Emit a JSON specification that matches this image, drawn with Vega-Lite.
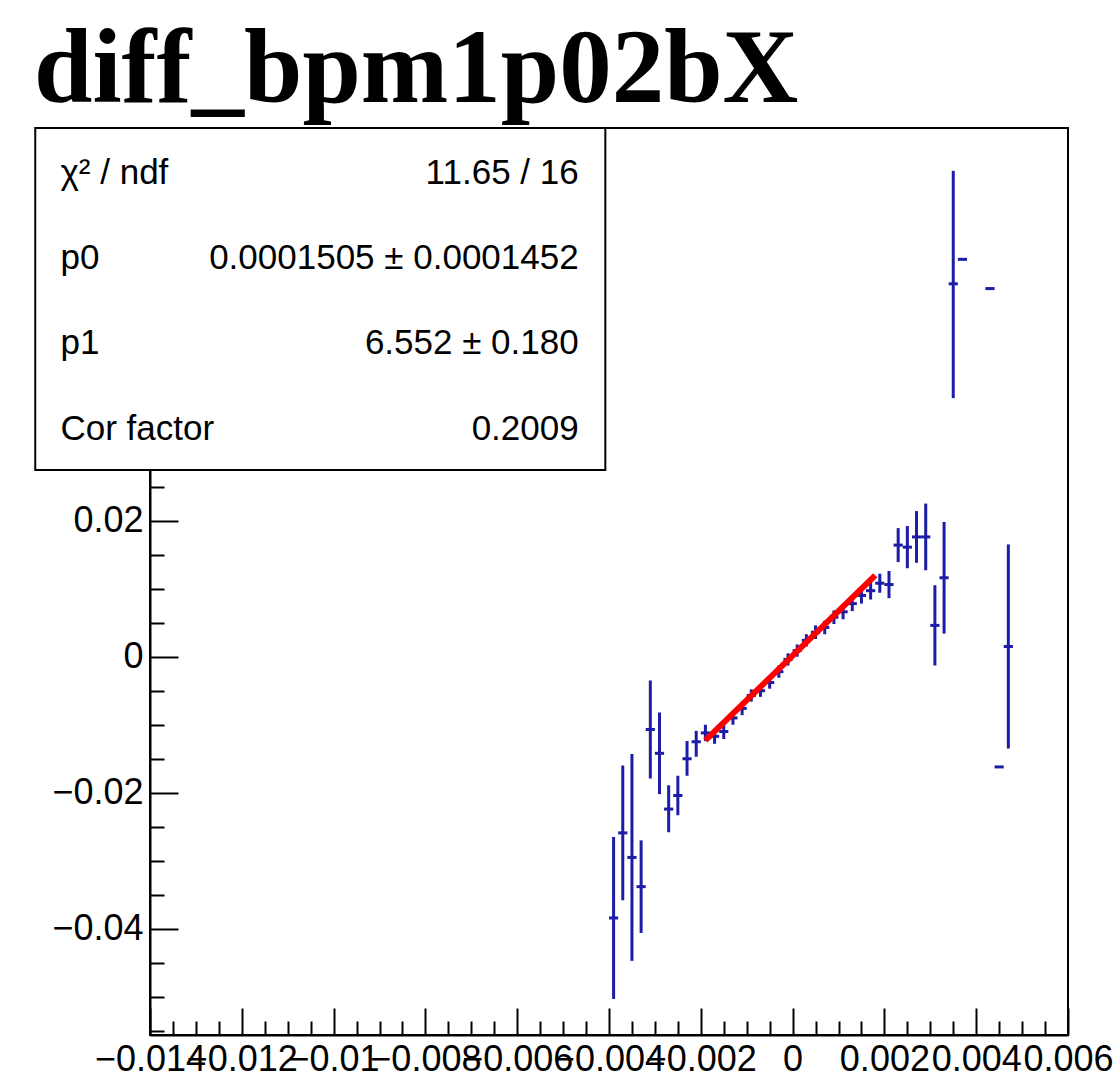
{
  "$schema": "https://vega.github.io/schema/vega-lite/v6.json",
  "width": 918,
  "height": 907,
  "autosize": {"type": "none"},
  "padding": {"left": 150, "top": 128, "right": 51, "bottom": 55},
  "background": "white",
  "title": {"text": "diff_bpm1p02bX", "anchor": "start", "frame": "group", "font": "Liberation Serif", "fontSize": 105, "fontWeight": "bold", "color": "black", "dx": -116, "dy": 105, "offset": 25, "baseline": "alphabetic"},
  "config": {"view": {"stroke": "black", "strokeWidth": 2}},
  "resolve": {"axis": {"x": "independent", "y": "independent"}},
  "datasets": {
    "pts": [
      {"x": -0.0039, "y": -0.0384, "ylo": -0.0503, "yhi": -0.0265, "xlo": -0.004, "xhi": -0.0038},
      {"x": -0.0037, "y": -0.0259, "ylo": -0.0358, "yhi": -0.016, "xlo": -0.0038, "xhi": -0.0036},
      {"x": -0.0035, "y": -0.0295, "ylo": -0.0447, "yhi": -0.0143, "xlo": -0.0036, "xhi": -0.0034},
      {"x": -0.0033, "y": -0.0338, "ylo": -0.0406, "yhi": -0.027, "xlo": -0.0034, "xhi": -0.0032},
      {"x": -0.0031, "y": -0.0107, "ylo": -0.0179, "yhi": -0.0035, "xlo": -0.0032, "xhi": -0.003},
      {"x": -0.0029, "y": -0.0142, "ylo": -0.0202, "yhi": -0.0082, "xlo": -0.003, "xhi": -0.0028},
      {"x": -0.0027, "y": -0.0224, "ylo": -0.0258, "yhi": -0.0189, "xlo": -0.0028, "xhi": -0.0026},
      {"x": -0.0025, "y": -0.0204, "ylo": -0.0233, "yhi": -0.0175, "xlo": -0.0026, "xhi": -0.0024},
      {"x": -0.0023, "y": -0.015, "ylo": -0.0175, "yhi": -0.0124, "xlo": -0.0024, "xhi": -0.0022},
      {"x": -0.0021, "y": -0.0125, "ylo": -0.0147, "yhi": -0.0109, "xlo": -0.0022, "xhi": -0.002},
      {"x": -0.0019, "y": -0.0112, "ylo": -0.0124, "yhi": -0.01, "xlo": -0.002, "xhi": -0.0018},
      {"x": -0.0017, "y": -0.0117, "ylo": -0.0128, "yhi": -0.0106, "xlo": -0.0018, "xhi": -0.0016},
      {"x": -0.0015, "y": -0.011, "ylo": -0.0121, "yhi": -0.0099, "xlo": -0.0016, "xhi": -0.0014},
      {"x": -0.0013, "y": -0.009, "ylo": -0.01, "yhi": -0.008, "xlo": -0.0014, "xhi": -0.0012},
      {"x": -0.0011, "y": -0.0076, "ylo": -0.0086, "yhi": -0.0066, "xlo": -0.0012, "xhi": -0.001},
      {"x": -0.0009, "y": -0.0057, "ylo": -0.0066, "yhi": -0.0048, "xlo": -0.001, "xhi": -0.0008},
      {"x": -0.0007, "y": -0.005, "ylo": -0.0059, "yhi": -0.0041, "xlo": -0.0008, "xhi": -0.0006},
      {"x": -0.0005, "y": -0.0038, "ylo": -0.0047, "yhi": -0.0029, "xlo": -0.0006, "xhi": -0.0004},
      {"x": -0.0003, "y": -0.0022, "ylo": -0.0031, "yhi": -0.0013, "xlo": -0.0004, "xhi": -0.0002},
      {"x": -0.0001, "y": -0.0004, "ylo": -0.0013, "yhi": 0.0005, "xlo": -0.0002, "xhi": 0},
      {"x": 0.0001, "y": 0.0009, "ylo": 0, "yhi": 0.0018, "xlo": 0, "xhi": 0.0002},
      {"x": 0.0003, "y": 0.0024, "ylo": 0.0015, "yhi": 0.0033, "xlo": 0.0002, "xhi": 0.0004},
      {"x": 0.0005, "y": 0.0036, "ylo": 0.0026, "yhi": 0.0046, "xlo": 0.0004, "xhi": 0.0006},
      {"x": 0.0007, "y": 0.0043, "ylo": 0.0033, "yhi": 0.0053, "xlo": 0.0006, "xhi": 0.0008},
      {"x": 0.0009, "y": 0.0058, "ylo": 0.0048, "yhi": 0.0068, "xlo": 0.0008, "xhi": 0.001},
      {"x": 0.0011, "y": 0.0066, "ylo": 0.0055, "yhi": 0.0077, "xlo": 0.001, "xhi": 0.0012},
      {"x": 0.0013, "y": 0.0078, "ylo": 0.0067, "yhi": 0.0089, "xlo": 0.0012, "xhi": 0.0014},
      {"x": 0.0015, "y": 0.009, "ylo": 0.0078, "yhi": 0.0102, "xlo": 0.0014, "xhi": 0.0016},
      {"x": 0.0017, "y": 0.0097, "ylo": 0.0084, "yhi": 0.011, "xlo": 0.0016, "xhi": 0.0018},
      {"x": 0.0019, "y": 0.0108, "ylo": 0.0094, "yhi": 0.0122, "xlo": 0.0018, "xhi": 0.002},
      {"x": 0.0021, "y": 0.0106, "ylo": 0.0086, "yhi": 0.0126, "xlo": 0.002, "xhi": 0.0022},
      {"x": 0.0023, "y": 0.0164, "ylo": 0.0139, "yhi": 0.0189, "xlo": 0.0022, "xhi": 0.0024},
      {"x": 0.0025, "y": 0.0161, "ylo": 0.013, "yhi": 0.0192, "xlo": 0.0024, "xhi": 0.0026},
      {"x": 0.0027, "y": 0.0176, "ylo": 0.0138, "yhi": 0.0214, "xlo": 0.0026, "xhi": 0.0028},
      {"x": 0.0029, "y": 0.0176, "ylo": 0.0127, "yhi": 0.0225, "xlo": 0.0028, "xhi": 0.003},
      {"x": 0.0031, "y": 0.0046, "ylo": -0.0013, "yhi": 0.0105, "xlo": 0.003, "xhi": 0.0032},
      {"x": 0.0033, "y": 0.0116, "ylo": 0.0034, "yhi": 0.0198, "xlo": 0.0032, "xhi": 0.0034},
      {"x": 0.0035, "y": 0.0548, "ylo": 0.038, "yhi": 0.0714, "xlo": 0.0034, "xhi": 0.0036},
      {"x": 0.0037, "y": 0.0584, "ylo": 0.0584, "yhi": 0.0584, "xlo": 0.0036, "xhi": 0.0038},
      {"x": 0.0043, "y": 0.0541, "ylo": 0.0541, "yhi": 0.0541, "xlo": 0.0042, "xhi": 0.0044},
      {"x": 0.0045, "y": -0.0162, "ylo": -0.0162, "yhi": -0.0162, "xlo": 0.0044, "xhi": 0.0046},
      {"x": 0.0047, "y": 0.0015, "ylo": -0.0135, "yhi": 0.0165, "xlo": 0.0046, "xhi": 0.0048}
    ],
    "fit": [
      {"x": -0.0019, "y": -0.0122983},
      {"x": 0.0018, "y": 0.0119441}
    ]
  },
  "layer": [
    {
      "data": {"name": "pts"},
      "mark": {"type": "rule", "color": "#1c1ca6", "strokeWidth": 3},
      "encoding": {
        "x": {
          "field": "x", "type": "quantitative", "title": null,
          "scale": {"domain": [-0.014, 0.006], "nice": false, "zero": false},
          "axis": {
            "orient": "bottom",
            "values": [-0.014, -0.012, -0.01, -0.008, -0.006, -0.004, -0.002, 0, 0.002, 0.004, 0.006],
            "format": "~g",
            "tickSize": -27,
            "labelPadding": 34,
            "labelFont": "Liberation Sans", "labelFontSize": 36, "labelColor": "black",
            "labelOverlap": false, "labelFlush": false, "labelBound": false,
            "tickColor": "black", "tickWidth": 2,
            "domainColor": "black", "domainWidth": 2, "grid": false
          }
        },
        "y": {
          "field": "ylo", "type": "quantitative", "title": null,
          "scale": {"domain": [-0.0556, 0.0777], "nice": false, "zero": false},
          "axis": {
            "orient": "left",
            "values": [-0.04, -0.02, 0, 0.02],
            "format": "~g",
            "tickSize": -28,
            "labelPadding": 35,
            "labelFont": "Liberation Sans", "labelFontSize": 36, "labelColor": "black",
            "labelOverlap": false, "labelFlush": false, "labelBound": false,
            "tickColor": "black", "tickWidth": 2,
            "domainColor": "black", "domainWidth": 2, "grid": false
          }
        },
        "y2": {"field": "yhi"}
      }
    },
    {
      "data": {"name": "pts"},
      "mark": {"type": "rule", "color": "#1c1ca6", "strokeWidth": 3},
      "encoding": {
        "x": {
          "field": "xlo", "type": "quantitative", "title": null,
          "axis": {
            "orient": "bottom",
            "values": [-0.0135, -0.013, -0.0125, -0.0115, -0.011, -0.0105, -0.0095, -0.009, -0.0085, -0.0075, -0.007, -0.0065, -0.0055, -0.005, -0.0045, -0.0035, -0.003, -0.0025, -0.0015, -0.001, -0.0005, 0.0005, 0.001, 0.0015, 0.0025, 0.003, 0.0035, 0.0045, 0.005, 0.0055],
            "labels": false, "domain": false, "grid": false,
            "tickSize": -14, "tickColor": "black", "tickWidth": 2
          }
        },
        "x2": {"field": "xhi"},
        "y": {
          "field": "y", "type": "quantitative", "title": null,
          "axis": {
            "orient": "left",
            "values": [-0.055, -0.05, -0.045, -0.035, -0.03, -0.025, -0.015, -0.01, -0.005, 0.005, 0.01, 0.015, 0.025, 0.03, 0.035],
            "labels": false, "domain": false, "grid": false,
            "tickSize": -14, "tickColor": "black", "tickWidth": 2
          }
        }
      }
    },
    {
      "data": {"name": "fit"},
      "mark": {"type": "line", "color": "#ff0000", "strokeWidth": 6},
      "encoding": {
        "x": {"field": "x", "type": "quantitative", "axis": null},
        "y": {"field": "y", "type": "quantitative", "axis": null}
      }
    },
    {
      "data": {"values": [{}]},
      "mark": {"type": "rect", "fill": "white", "stroke": "black", "strokeWidth": 2},
      "encoding": {
        "x": {"datum": -0.0165, "type": "quantitative", "axis": null},
        "x2": {"datum": -0.00408},
        "y": {"datum": 0.0777, "type": "quantitative", "axis": null},
        "y2": {"datum": 0.02744}
      }
    },
    {
      "data": {"values": [{}]},
      "mark": {"type": "text", "align": "left", "baseline": "middle", "font": "Liberation Sans", "fontSize": 35, "color": "black"},
      "encoding": {"x": {"datum": -0.01595, "type": "quantitative", "axis": null}, "y": {"datum": 0.0711, "type": "quantitative", "axis": null}, "text": {"value": "χ² / ndf"}}
    },
    {
      "data": {"values": [{}]},
      "mark": {"type": "text", "align": "right", "baseline": "middle", "font": "Liberation Sans", "fontSize": 35, "color": "black"},
      "encoding": {"x": {"datum": -0.00466, "type": "quantitative", "axis": null}, "y": {"datum": 0.0711, "type": "quantitative", "axis": null}, "text": {"value": "11.65 / 16"}}
    },
    {
      "data": {"values": [{}]},
      "mark": {"type": "text", "align": "left", "baseline": "middle", "font": "Liberation Sans", "fontSize": 35, "color": "black"},
      "encoding": {"x": {"datum": -0.01595, "type": "quantitative", "axis": null}, "y": {"datum": 0.0586, "type": "quantitative", "axis": null}, "text": {"value": "p0"}}
    },
    {
      "data": {"values": [{}]},
      "mark": {"type": "text", "align": "right", "baseline": "middle", "font": "Liberation Sans", "fontSize": 35, "color": "black"},
      "encoding": {"x": {"datum": -0.00466, "type": "quantitative", "axis": null}, "y": {"datum": 0.0586, "type": "quantitative", "axis": null}, "text": {"value": "0.0001505 ± 0.0001452"}}
    },
    {
      "data": {"values": [{}]},
      "mark": {"type": "text", "align": "left", "baseline": "middle", "font": "Liberation Sans", "fontSize": 35, "color": "black"},
      "encoding": {"x": {"datum": -0.01595, "type": "quantitative", "axis": null}, "y": {"datum": 0.0461, "type": "quantitative", "axis": null}, "text": {"value": "p1"}}
    },
    {
      "data": {"values": [{}]},
      "mark": {"type": "text", "align": "right", "baseline": "middle", "font": "Liberation Sans", "fontSize": 35, "color": "black"},
      "encoding": {"x": {"datum": -0.00466, "type": "quantitative", "axis": null}, "y": {"datum": 0.0461, "type": "quantitative", "axis": null}, "text": {"value": "6.552 ± 0.180"}}
    },
    {
      "data": {"values": [{}]},
      "mark": {"type": "text", "align": "left", "baseline": "middle", "font": "Liberation Sans", "fontSize": 35, "color": "black"},
      "encoding": {"x": {"datum": -0.01595, "type": "quantitative", "axis": null}, "y": {"datum": 0.0335, "type": "quantitative", "axis": null}, "text": {"value": "Cor factor"}}
    },
    {
      "data": {"values": [{}]},
      "mark": {"type": "text", "align": "right", "baseline": "middle", "font": "Liberation Sans", "fontSize": 35, "color": "black"},
      "encoding": {"x": {"datum": -0.00466, "type": "quantitative", "axis": null}, "y": {"datum": 0.0335, "type": "quantitative", "axis": null}, "text": {"value": "0.2009"}}
    }
  ]
}
